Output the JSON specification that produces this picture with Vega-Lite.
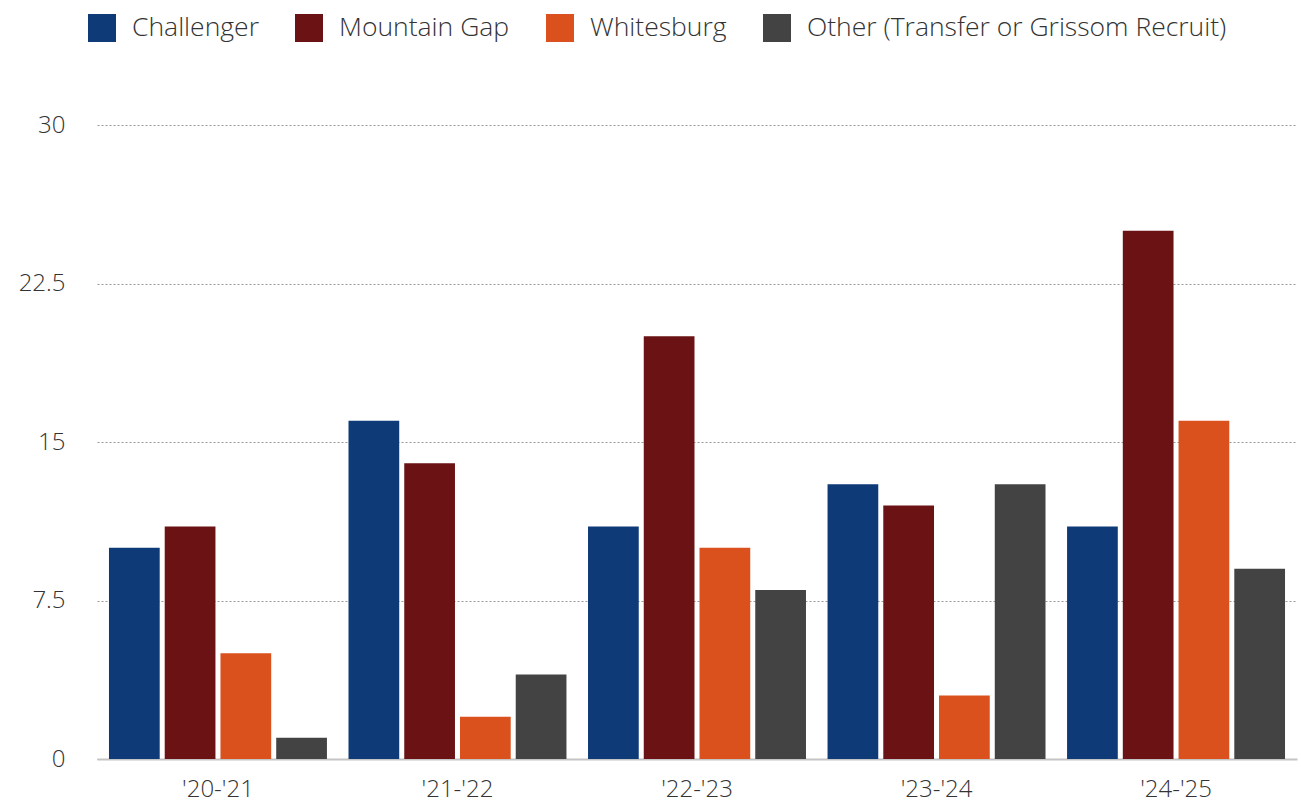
{
  "$schema": "https://vega.github.io/schema/vega-lite/v6.json",
  "width": 1200,
  "height": 634,
  "autosize": {"type": "none"},
  "padding": {"left": 97, "top": 125, "right": 4, "bottom": 45},
  "background": "white",
  "config": {
    "view": {"stroke": null},
    "font": "Open Sans",
    "text": {"font": "Open Sans"}
  },
  "data": {
    "values": [
      {"year": "'20-'21", "school": "Challenger", "count": 10},
      {"year": "'20-'21", "school": "Mountain Gap", "count": 11},
      {"year": "'20-'21", "school": "Whitesburg", "count": 5},
      {"year": "'20-'21", "school": "Other (Transfer or Grissom Recruit)", "count": 1},
      {"year": "'21-'22", "school": "Challenger", "count": 16},
      {"year": "'21-'22", "school": "Mountain Gap", "count": 14},
      {"year": "'21-'22", "school": "Whitesburg", "count": 2},
      {"year": "'21-'22", "school": "Other (Transfer or Grissom Recruit)", "count": 4},
      {"year": "'22-'23", "school": "Challenger", "count": 11},
      {"year": "'22-'23", "school": "Mountain Gap", "count": 20},
      {"year": "'22-'23", "school": "Whitesburg", "count": 10},
      {"year": "'22-'23", "school": "Other (Transfer or Grissom Recruit)", "count": 8},
      {"year": "'23-'24", "school": "Challenger", "count": 13},
      {"year": "'23-'24", "school": "Mountain Gap", "count": 12},
      {"year": "'23-'24", "school": "Whitesburg", "count": 3},
      {"year": "'23-'24", "school": "Other (Transfer or Grissom Recruit)", "count": 13},
      {"year": "'24-'25", "school": "Challenger", "count": 11},
      {"year": "'24-'25", "school": "Mountain Gap", "count": 25},
      {"year": "'24-'25", "school": "Whitesburg", "count": 16},
      {"year": "'24-'25", "school": "Other (Transfer or Grissom Recruit)", "count": 9}
    ]
  },
  "mark": {"type": "bar"},
  "encoding": {
    "x": {
      "field": "year", "type": "nominal", "sort": null,
      "scale": {"paddingInner": 0.09, "paddingOuter": 0.05},
      "axis": {
        "title": null, "labelAngle": 0, "labelFontSize": 24, "labelColor": "#333333",
        "labelPadding": 18, "ticks": false, "domainColor": "#c4c4c4", "domainWidth": 2,
        "labelFont": "Open Sans", "labelFontWeight": 300
      }
    },
    "xOffset": {
      "field": "school", "type": "nominal", "sort": null,
      "scale": {"paddingInner": 0.09, "paddingOuter": 0}
    },
    "y": {
      "field": "count", "type": "quantitative",
      "scale": {"domain": [0, 30], "nice": false},
      "axis": {
        "title": null, "values": [0, 7.5, 15, 22.5, 30], "labelFontSize": 24,
        "labelColor": "#333333", "labelPadding": 32, "ticks": false, "domain": false,
        "gridColor": "#999999", "gridDash": [2, 2], "gridWidth": 1, "labelFont": "Open Sans",
        "labelFontWeight": 300, "format": ".1~f"
      }
    },
    "color": {
      "field": "school", "type": "nominal", "sort": null,
      "scale": {
        "domain": ["Challenger", "Mountain Gap", "Whitesburg", "Other (Transfer or Grissom Recruit)"],
        "range": ["#0f3a78", "#6a1214", "#da511d", "#434343"]
      },
      "legend": {
        "title": null, "orient": "none", "direction": "horizontal",
        "legendX": -9, "legendY": -111, "symbolType": "square", "symbolSize": 784,
        "symbolStrokeWidth": 0, "labelFontSize": 26.5, "labelColor": "#333333",
        "labelOffset": 16, "columnPadding": 36, "labelFont": "Open Sans",
        "labelFontWeight": 300, "labelLimit": 600
      }
    }
  }
}
